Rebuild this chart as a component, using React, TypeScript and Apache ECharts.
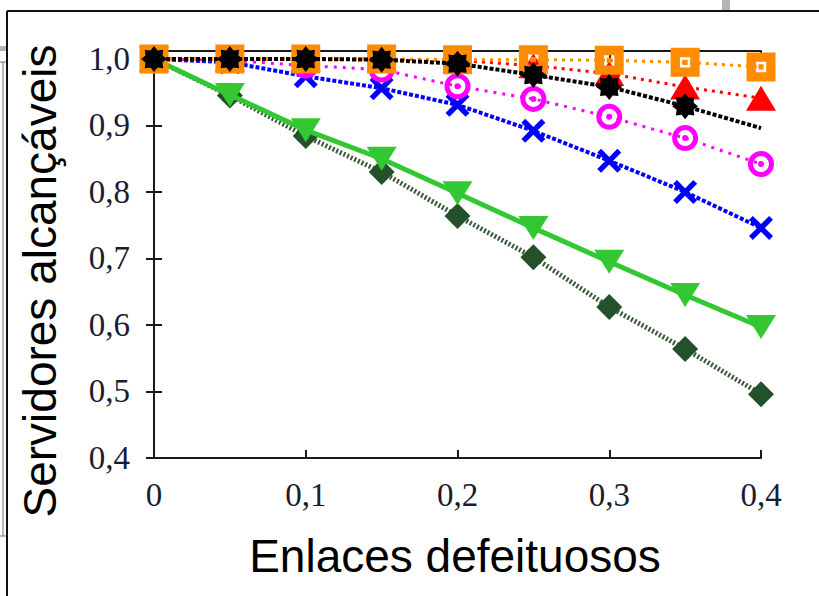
import React, { useEffect, useRef } from "react";
import * as echarts from "echarts";

const xValues = [0, 0.05, 0.1, 0.15, 0.2, 0.25, 0.3, 0.35, 0.4];
const orangeVals = [1.0, 1.0, 1.0, 1.0, 0.999, 0.999, 0.998, 0.995, 0.988];
const redVals = [1.0, 1.0, 1.0, 1.0, 0.998, 0.99, 0.978, 0.958, 0.941];
const blackVals = [1.0, 1.0, 1.0, 0.999, 0.993, 0.976, 0.958, 0.929, 0.896];
const magentaVals = [1.0, 0.998, 0.99, 0.984, 0.959, 0.94, 0.913, 0.881, 0.842];
const blueVals = [1.0, 0.995, 0.974, 0.956, 0.931, 0.892, 0.847, 0.8, 0.746];
const greenVals = [1.0, 0.946, 0.893, 0.85, 0.798, 0.746, 0.695, 0.645, 0.597];
const darkVals = [1.0, 0.945, 0.884, 0.83, 0.764, 0.702, 0.627, 0.564, 0.496];

const xTitle = "Enlaces defeituosos";
const yTitle = "Servidores alcançáveis";

function starPath(n: number, ro: number, ri: number) {
  let d = "";
  for (let i = 0; i < n * 2; i++) {
    const r = i % 2 === 0 ? ro : ri;
    const a = (Math.PI * i) / n - Math.PI / 2;
    const px = (ro + r * Math.cos(a)).toFixed(2);
    const py = (ro + r * Math.sin(a)).toFixed(2);
    d += (i === 0 ? "M" : "L") + px + " " + py + " ";
  }
  return "path://" + d + "Z";
}

const SQUARE_SYM =
  "path://M0 0 L28 0 L28 28 L0 28 Z M9 9 L9 19 L19 19 L19 9 Z M11.5 11.5 L16.5 11.5 L16.5 16.5 L11.5 16.5 Z";
const RING_SYM =
  "path://M13 0 A13 13 0 1 1 13 26 A13 13 0 1 1 13 0 Z M13 5 A8 8 0 1 0 13 21 A8 8 0 1 0 13 5 Z M13 10 A3 3 0 1 1 13 16 A3 3 0 1 1 13 10 Z";
const X_SYM =
  "path://M0 1.6 L1.6 0 L5 3.4 L8.4 0 L10 1.6 L6.6 5 L10 8.4 L8.4 10 L5 6.6 L1.6 10 L0 8.4 L3.4 5 Z";
const STAR_SYM = starPath(8, 12, 8.5);

export default function App() {
  const ref = useRef<HTMLDivElement>(null);
  useEffect(() => {
    if (!ref.current) return;
    const chart = echarts.init(ref.current, undefined, { renderer: "svg" });
    const pts = (vals: number[]) => vals.map((v, i) => [xValues[i], v]);
    const fmtY = (v: number) => {
      const r = Math.round(v * 10) / 10;
      if (Math.abs(r - v) > 1e-6) return "";
      return r.toFixed(1).replace(".", ",");
    };
    const fmtX = (v: number) => (v === 0 ? "0" : (Math.round(v * 10) / 10).toFixed(1).replace(".", ","));
    const labelStyle = {
      fontFamily: "Liberation Serif",
      fontSize: 33,
      color: "#1c1c30",
    };
    const axisLine = { show: true, lineStyle: { color: "#1a1a1a", width: 2 } };
    const tick = { show: true, inside: true, length: 8, lineStyle: { color: "#1a1a1a", width: 2 } };

    const blackData = blackVals.map((v, i) =>
      i === blackVals.length - 1 ? { value: [xValues[i], v], symbol: "none" } : [xValues[i], v]
    );

    chart.setOption({
      animation: false,
      backgroundColor: "#ffffff",
      grid: { left: 154, right: 58, top: 51, bottom: 138 },
      xAxis: [
        {
          type: "value",
          min: 0,
          max: 0.4,
          interval: 0.1,
          axisLine,
          axisTick: tick,
          splitLine: { show: false },
          axisLabel: { ...labelStyle, margin: 20, formatter: fmtX },
        },
        {
          type: "value",
          position: "top",
          min: 0,
          max: 0.4,
          interval: 0.1,
          axisLine,
          axisTick: tick,
          splitLine: { show: false },
          axisLabel: { show: false },
        },
      ],
      yAxis: [
        {
          type: "value",
          min: 0.4,
          max: 1.012,
          interval: 0.1,
          axisLine,
          axisTick: tick,
          splitLine: { show: false },
          axisLabel: { ...labelStyle, margin: 24, formatter: fmtY },
        },
        {
          type: "value",
          position: "right",
          min: 0.4,
          max: 1.012,
          interval: 0.1,
          axisLine,
          axisTick: tick,
          splitLine: { show: false },
          axisLabel: { show: false },
        },
      ],
      series: [
        {
          type: "line",
          data: pts(darkVals),
          symbol: "diamond",
          symbolSize: 26,
          itemStyle: { color: "#24512a" },
          lineStyle: { color: "#3a5a3a", width: 5, type: [2, 2] },
          z: 2,
        },
        {
          type: "line",
          data: pts(greenVals),
          symbol: "triangle",
          symbolRotate: 180,
          symbolSize: [30, 24],
          itemStyle: { color: "#33c833" },
          lineStyle: { color: "#33c833", width: 5 },
          z: 3,
        },
        {
          type: "line",
          data: pts(blueVals),
          symbol: X_SYM,
          symbolSize: 24,
          itemStyle: { color: "#0000ff" },
          lineStyle: { color: "#0000ff", width: 4, type: [4, 2] },
          z: 4,
        },
        {
          type: "line",
          data: pts(magentaVals),
          symbol: RING_SYM,
          symbolSize: 26,
          itemStyle: { color: "#ff00ff" },
          lineStyle: { color: "#ff00ff", width: 3, type: [3, 6] },
          z: 5,
        },
        {
          type: "line",
          data: pts(redVals),
          symbol: "triangle",
          symbolSize: [30, 25],
          itemStyle: { color: "#ff0000" },
          lineStyle: { color: "#ff0000", width: 3, type: [3, 5] },
          z: 6,
        },
        {
          type: "line",
          data: pts(orangeVals),
          symbol: SQUARE_SYM,
          symbolSize: 29,
          itemStyle: { color: "#ff8c00" },
          lineStyle: { color: "#ff8c00", width: 3, type: [3, 5] },
          z: 7,
        },
        {
          type: "line",
          data: blackData,
          symbol: STAR_SYM,
          symbolSize: 26,
          itemStyle: { color: "#000000" },
          lineStyle: { color: "#000000", width: 4, type: [4, 2] },
          z: 8,
        },
      ],
      graphic: [
        { type: "line", shape: { x1: 7, y1: 11, x2: 819, y2: 11 }, style: { stroke: "#111", lineWidth: 2 } },
        { type: "line", shape: { x1: 7, y1: 11, x2: 7, y2: 596 }, style: { stroke: "#111", lineWidth: 2 } },
        { type: "rect", shape: { x: 722, y: 0, width: 8, height: 10 }, style: { fill: "#b4b4b4" } },
        { type: "rect", shape: { x: 0, y: 46, width: 6, height: 5 }, style: { fill: "#b4b4b4" } },
        { type: "line", shape: { x1: 0, y1: 62, x2: 6, y2: 62 }, style: { stroke: "#777", lineWidth: 1 } },
        { type: "line", shape: { x1: 3, y1: 62, x2: 3, y2: 536 }, style: { stroke: "#777", lineWidth: 1 } },
        { type: "line", shape: { x1: 0, y1: 536, x2: 6, y2: 536 }, style: { stroke: "#777", lineWidth: 1 } },
        {
          type: "text",
          x: 455,
          y: 556,
          style: {
            text: xTitle,
            fontFamily: "Liberation Sans",
            fontSize: 46,
            fill: "#000",
            textAlign: "center",
            textVerticalAlign: "middle",
          },
        },
        {
          type: "text",
          x: 40,
          y: 281,
          rotation: Math.PI / 2,
          style: {
            text: yTitle,
            fontFamily: "Liberation Sans",
            fontSize: 46,
            fill: "#000",
            textAlign: "center",
            textVerticalAlign: "middle",
          },
        },
      ],
    });
    return () => chart.dispose();
  }, []);
  return (
    <div
      ref={ref}
      style={{ position: "fixed", left: 0, top: 0, width: 819, height: 596, background: "#fff" }}
    />
  );
}
